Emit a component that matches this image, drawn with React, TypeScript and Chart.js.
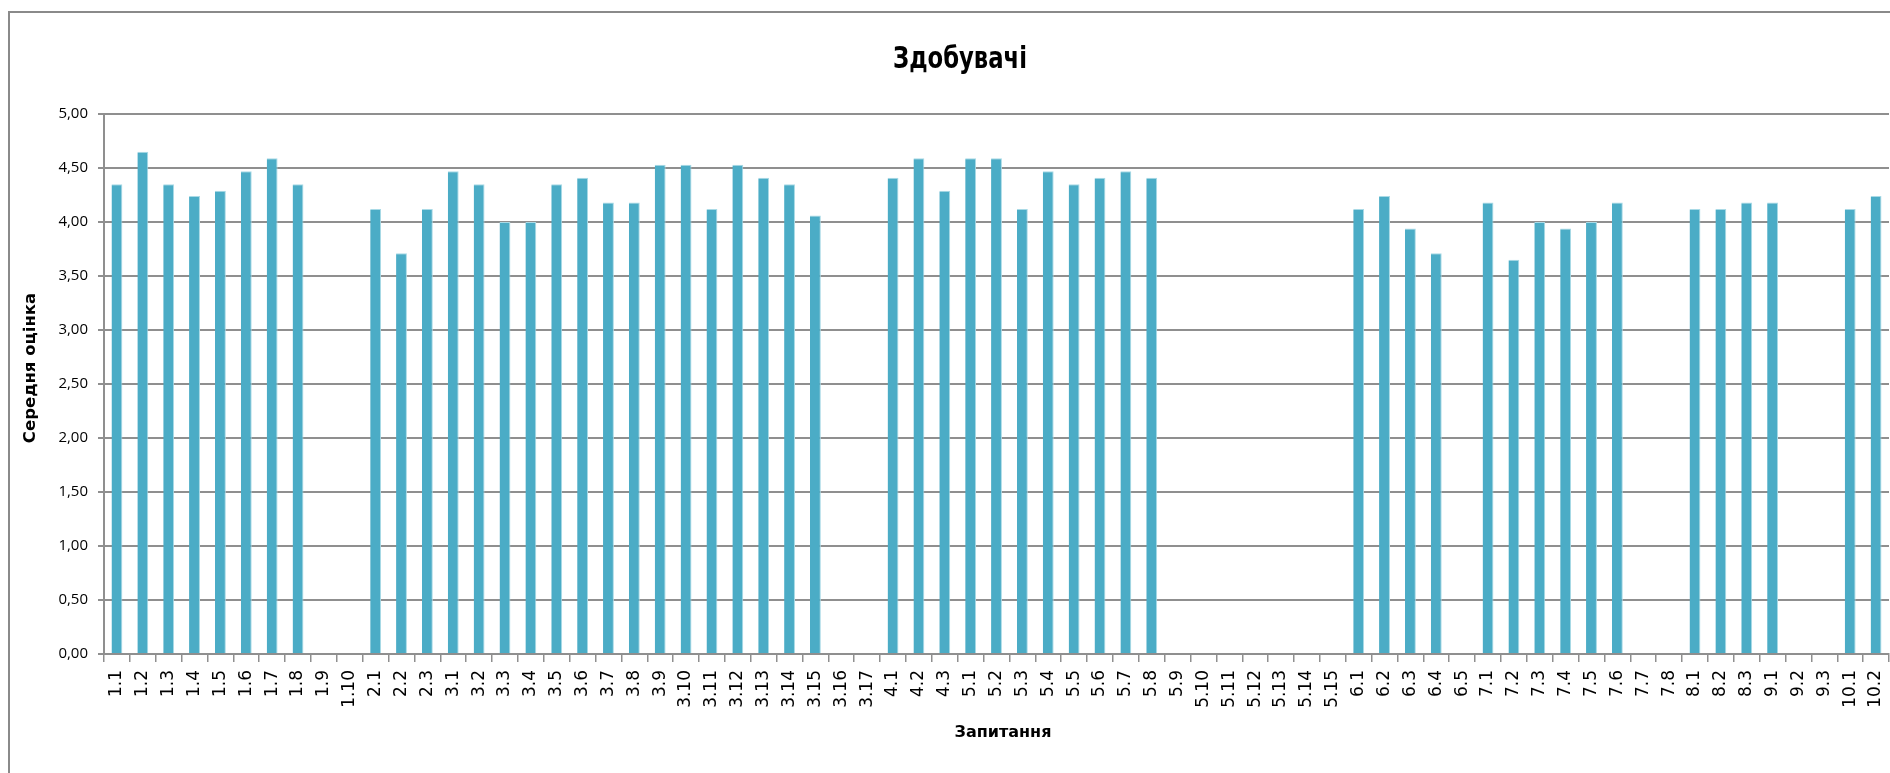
import React, { useEffect, useRef } from "react";
import { Chart, registerables } from "chart.js";

Chart.register(...registerables);

const TITLE = "Здобувачі";
const Y_TITLE = "Середня оцінка";
const X_TITLE = "Запитання";

const CATEGORIES = [
  "1.1", "1.2", "1.3", "1.4", "1.5", "1.6", "1.7", "1.8", "1.9", "1.10",
  "2.1", "2.2", "2.3",
  "3.1", "3.2", "3.3", "3.4", "3.5", "3.6", "3.7", "3.8", "3.9", "3.10",
  "3.11", "3.12", "3.13", "3.14", "3.15", "3.16", "3.17",
  "4.1", "4.2", "4.3",
  "5.1", "5.2", "5.3", "5.4", "5.5", "5.6", "5.7", "5.8", "5.9", "5.10",
  "5.11", "5.12", "5.13", "5.14", "5.15",
  "6.1", "6.2", "6.3", "6.4", "6.5",
  "7.1", "7.2", "7.3", "7.4", "7.5", "7.6", "7.7", "7.8",
  "8.1", "8.2", "8.3",
  "9.1", "9.2", "9.3",
  "10.1", "10.2",
];

const VALUES: (number | null)[] = [
  4.35, 4.65, 4.35, 4.24, 4.29, 4.47, 4.59, 4.35, null, null,
  4.12, 3.71, 4.12,
  4.47, 4.35, 4.0, 4.0, 4.35, 4.41, 4.18, 4.18, 4.53, 4.53,
  4.12, 4.53, 4.41, 4.35, 4.06, null, null,
  4.41, 4.59, 4.29,
  4.59, 4.59, 4.12, 4.47, 4.35, 4.41, 4.47, 4.41, null, null,
  null, null, null, null, null,
  4.12, 4.24, 3.94, 3.71, null,
  4.18, 3.65, 4.0, 3.94, 4.0, 4.18, null, null,
  4.12, 4.12, 4.18,
  4.18, null, null,
  4.12, 4.24,
];

const Y_MIN = 0;
const Y_MAX = 5;
const Y_STEP = 0.5;

const BAR_COLOR = "#4BACC6";
const GRID_COLOR = "#8f8f8f";

const titlesPlugin = {
  id: "customTitles",
  afterDraw(chart: any) {
    const ctx = chart.ctx;
    ctx.save();
    // main title (condensed look)
    ctx.font = "bold 31px 'DejaVu Sans Condensed', 'DejaVu Sans', sans-serif";
    ctx.fillStyle = "#000";
    ctx.textAlign = "center";
    ctx.textBaseline = "alphabetic";
    const w = ctx.measureText(TITLE).width;
    const sx = w > 0 ? 134 / w : 1;
    ctx.save();
    ctx.translate(960, 68);
    ctx.scale(sx, 1);
    ctx.fillText(TITLE, 0, 0);
    ctx.restore();

    // axis titles
    ctx.font = "bold 16px 'DejaVu Sans', sans-serif";
    ctx.textBaseline = "middle";
    ctx.textAlign = "center";
    ctx.fillText(X_TITLE, 1003, 733);

    ctx.save();
    ctx.translate(31, 368);
    ctx.rotate(-Math.PI / 2);
    ctx.font = "bold 16.5px 'DejaVu Sans', sans-serif";
    ctx.fillText(Y_TITLE, 0, 0);
    ctx.restore();

    ctx.restore();
  },
};

export default function App() {
  const canvasRef = useRef<HTMLCanvasElement | null>(null);

  useEffect(() => {
    if (!canvasRef.current) return;
    const chart = new Chart(canvasRef.current, {
      type: "bar",
      data: {
        labels: CATEGORIES,
        datasets: [
          {
            data: VALUES,
            backgroundColor: BAR_COLOR,
            borderColor: "#a9dae6",
            borderWidth: { top: 1, right: 1, left: 0, bottom: 0 },
            barPercentage: 0.42,
            categoryPercentage: 1.0,
          },
        ],
      },
      options: {
        responsive: false,
        animation: false,
        maintainAspectRatio: false,
        layout: { padding: { top: 114, left: 0, right: 31, bottom: 0 } },
        plugins: {
          legend: { display: false },
          tooltip: { enabled: false },
          title: { display: false },
        },
        scales: {
          x: {
            grid: {
              offset: true,
              drawOnChartArea: false,
              drawTicks: true,
              tickLength: 8,
              color: GRID_COLOR,
              lineWidth: 1.5,
            },
            border: { color: GRID_COLOR, width: 2 },
            ticks: {
              autoSkip: false,
              maxRotation: 90,
              minRotation: 90,
              padding: 8,
              color: "#000",
              font: { family: "'DejaVu Sans', sans-serif", size: 17 },
            },
            afterFit(scale: any) {
              scale.height = 119;
            },
          },
          y: {
            min: Y_MIN,
            max: Y_MAX,
            grid: {
              color: GRID_COLOR,
              lineWidth: 2,
              tickLength: 6,
            },
            border: { color: GRID_COLOR, width: 2 },
            ticks: {
              stepSize: Y_STEP,
              padding: 10,
              color: "#000",
              font: { family: "'Open Sans', sans-serif", size: 15 },
              callback: (v: any) => Number(v).toFixed(2).replace(".", ","),
            },
            afterFit(scale: any) {
              scale.width = 104;
            },
          },
        },
      },
      plugins: [titlesPlugin],
    });
    return () => chart.destroy();
  }, []);

  return (
    <div
      style={{
        position: "absolute",
        left: 0,
        top: 0,
        width: 1890,
        height: 773,
        overflow: "hidden",
        background: "#fff",
      }}
    >
      <div
        style={{
          position: "absolute",
          left: 8,
          top: 11,
          width: 1904,
          height: 820,
          border: "2px solid #8a8a8a",
          boxSizing: "border-box",
        }}
      />
      <canvas
        ref={canvasRef}
        width={1920}
        height={773}
        style={{ position: "absolute", left: 0, top: 0, width: 1920, height: 773 }}
      />
    </div>
  );
}
